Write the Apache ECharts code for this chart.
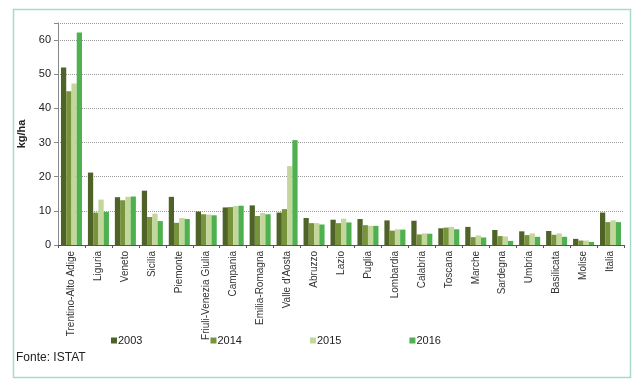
<!DOCTYPE html>
<html><head><meta charset="utf-8">
<script src="https://cdn.jsdelivr.net/npm/echarts@6/dist/echarts.min.js"></script>
<style>html,body{margin:0;padding:0;background:#fff}#c{width:640px;height:383px}</style>
</head><body><div id="c"></div>
<script>
const categories = ["Trentino-Alto Adige","Liguria","Veneto","Sicilia","Piemonte","Friuli-Venezia Giulia","Campania","Emilia-Romagna","Valle d'Aosta","Abruzzo","Lazio","Puglia","Lombardia","Calabria","Toscana","Marche","Sardegna","Umbria","Basilicata","Molise","Italia"];
const v2003 = [52.0,21.2,14.0,15.9,14.1,9.8,11.0,11.6,9.5,7.9,7.4,7.6,7.2,7.1,4.9,5.3,4.4,4.0,4.1,1.8,9.5];
const v2014 = [45.0,9.5,13.1,8.2,6.5,9.0,11.1,8.5,10.5,6.4,6.4,5.8,4.2,3.1,5.1,2.3,2.6,2.9,3.0,1.3,6.7];
const v2015 = [47.3,13.3,14.1,9.2,7.9,8.9,11.4,9.4,23.1,6.4,7.7,5.6,4.6,3.4,5.3,2.8,2.5,3.4,3.4,1.3,7.2];
const v2016 = [62.2,9.7,14.2,7.0,7.6,8.7,11.5,9.0,30.7,6.0,6.6,5.6,4.5,3.3,4.6,2.2,1.2,2.4,2.4,0.9,6.7];
const seriesNames = ["2003","2014","2015","2016"];
const colors = ["#4f6228","#77933c","#c3d69b","#4fb04f"];
const yTicks = [0,10,20,30,40,50,60];

const chart = echarts.init(document.getElementById('c'), null, {renderer:'canvas'});
const font = 'Liberation Sans, Arial, sans-serif';
const data = [v2003, v2014, v2015, v2016];
chart.setOption({
  animation:false,
  color: colors,
  textStyle:{fontFamily:font},
  grid:{left:58, top:23, right:16, bottom:138},
  graphic:[
    {type:'rect', shape:{x:13.5,y:9.5,width:617,height:368}, style:{fill:'none', stroke:'#a9dac9', lineWidth:1.5}, z:-1},
    {type:'text', left:16, top:352, style:{text:'Fonte: ISTAT', font:'12px '+font, fill:'#222'}}
  ],
  legend:{
    data: seriesNames, bottom:32, left:106, itemGap:68, itemWidth:6, itemHeight:6, icon:'rect',
    textStyle:{fontSize:11, color:'#222', padding:[0,0,0,-4]}
  },
  xAxis:{
    type:'category', data:categories,
    axisLine:{lineStyle:{color:'#555'}},
    axisTick:{show:true, length:3, lineStyle:{color:'#555'}},
    axisLabel:{rotate:90, fontSize:10, color:'#333', interval:0, margin:6}
  },
  yAxis:{
    type:'value', min:0, max:65, interval:10,
    name:'kg/ha', nameLocation:'middle', nameRotate:90, nameGap:27,
    nameTextStyle:{fontSize:11, fontWeight:'bold', color:'#222'},
    axisLine:{show:true, lineStyle:{color:'#888'}},
    axisTick:{show:true, length:4, lineStyle:{color:'#888'}},
    axisLabel:{fontSize:11, color:'#222', margin:7, formatter:v=> yTicks.includes(v)? String(v):''},
    splitLine:{lineStyle:{color:'#999', type:'dotted'}}
  },
  series: seriesNames.map((n,i)=>({
    name:n, type:'bar', data:data[i], barGap:'0%', barCategoryGap:'22%'
  }))
});
</script></body></html>
